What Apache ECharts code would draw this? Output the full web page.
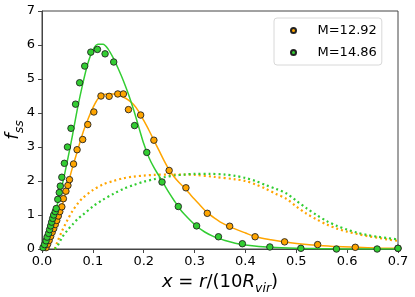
<!DOCTYPE html>
<html>
<head>
<meta charset="utf-8">
<script src="https://cdn.jsdelivr.net/npm/echarts@6/dist/echarts.min.js"></script>
<style>
html,body{margin:0;padding:0;background:#fff;}
#chart{width:415px;height:297px;}
</style>
</head>
<body>
<div id="chart"></div>
<script>
// ---- data ----
const seriesNames = ['M=12.92', 'M=14.86'];
const xTicks = [0.0, 0.1, 0.2, 0.3, 0.4, 0.5, 0.6, 0.7];
const yTicks = [0, 1, 2, 3, 4, 5, 6, 7];

// measured points, M=12.92 (orange)
const orangePtsX = [0.008,0.011,0.014,0.017,0.020,0.023,0.026,0.029,0.032,0.035,0.039,0.042,0.047,0.051,0.054,0.062,0.069,0.080,0.090,0.102,0.116,0.132,0.149,0.160,0.170,0.194,0.220,0.250,0.283,0.325,0.369,0.419,0.477,0.542,0.616,0.700];
const orangePtsY = [0.04,0.14,0.25,0.37,0.49,0.60,0.72,0.84,0.97,1.10,1.24,1.48,1.70,1.87,2.04,2.50,2.92,3.22,3.66,4.03,4.50,4.49,4.56,4.56,4.10,3.94,3.20,2.31,1.80,1.05,0.67,0.36,0.21,0.13,0.05,0.02];

// measured points, M=14.86 (green)
const greenPtsX = [0.002,0.005,0.008,0.010,0.013,0.015,0.017,0.019,0.021,0.023,0.026,0.028,0.031,0.034,0.036,0.039,0.044,0.050,0.057,0.066,0.074,0.084,0.096,0.109,0.124,0.141,0.182,0.206,0.236,0.268,0.304,0.347,0.394,0.448,0.509,0.579,0.659,0.700];
const greenPtsY = [0.04,0.13,0.24,0.35,0.46,0.57,0.68,0.79,0.90,1.00,1.10,1.19,1.46,1.66,1.85,2.11,2.52,3.00,3.55,4.26,4.89,5.38,5.79,5.87,5.74,5.50,3.63,2.84,1.97,1.25,0.68,0.36,0.155,0.06,0.02,0.0,0.0,0.02];

// model curves (solid)
const orangeModelX = [0.01,0.02,0.03,0.04,0.05,0.06,0.07,0.08,0.09,0.10,0.11,0.12,0.13,0.14,0.15,0.16,0.17,0.18,0.19,0.20,0.21,0.22,0.23,0.24,0.25,0.26,0.27,0.28,0.29,0.30,0.31,0.32,0.33,0.34,0.35,0.37,0.40,0.42,0.45,0.48,0.51,0.54,0.58,0.62,0.66,0.70];
const orangeModelY = [0,0.35,0.8,1.3,1.85,2.4,2.9,3.4,3.8,4.15,4.42,4.53,4.56,4.56,4.53,4.47,4.38,4.25,4.05,3.78,3.5,3.2,2.9,2.6,2.33,2.12,1.95,1.8,1.63,1.46,1.3,1.14,1.01,0.9,0.8,0.65,0.47,0.36,0.27,0.2,0.15,0.11,0.07,0.05,0.03,0.02];

const greenModelX = [0,0.01,0.02,0.03,0.04,0.05,0.06,0.07,0.08,0.09,0.10,0.11,0.12,0.13,0.14,0.15,0.16,0.17,0.18,0.19,0.20,0.21,0.22,0.23,0.24,0.25,0.26,0.27,0.28,0.30,0.32,0.34,0.36,0.38,0.40,0.45,0.50,0.55,0.60,0.70];
const greenModelY = [0,0.35,0.8,1.3,1.9,2.6,3.35,4.15,4.85,5.45,5.85,6.02,6.02,5.88,5.62,5.3,4.95,4.55,4.1,3.6,3.1,2.7,2.4,2.15,1.9,1.65,1.42,1.2,1.02,0.72,0.5,0.35,0.25,0.17,0.12,0.05,0.02,0.01,0,0];

// second model curves (dotted)
const orangeDotX = [0.025,0.03,0.04,0.05,0.06,0.07,0.08,0.10,0.12,0.14,0.16,0.18,0.20,0.22,0.25,0.28,0.30,0.34,0.38,0.40,0.42,0.44,0.46,0.48,0.50,0.52,0.54,0.56,0.58,0.60,0.62,0.64,0.66,0.68,0.70];
const orangeDotY = [0,0.2,0.55,0.85,1.12,1.33,1.5,1.73,1.9,2.0,2.08,2.13,2.16,2.18,2.19,2.19,2.18,2.12,2.05,2.0,1.9,1.77,1.62,1.48,1.25,1.04,0.87,0.72,0.6,0.51,0.44,0.38,0.33,0.28,0.24];

const greenDotX = [0.025,0.03,0.04,0.05,0.06,0.07,0.08,0.10,0.12,0.14,0.16,0.18,0.20,0.22,0.24,0.26,0.28,0.30,0.33,0.36,0.38,0.40,0.42,0.44,0.46,0.48,0.50,0.52,0.54,0.56,0.58,0.60,0.62,0.64,0.66,0.68,0.70];
const greenDotY = [0,0.08,0.35,0.55,0.72,0.88,1.0,1.25,1.45,1.62,1.77,1.88,1.98,2.05,2.11,2.16,2.19,2.21,2.21,2.19,2.15,2.09,2.0,1.88,1.77,1.64,1.42,1.2,1.0,0.82,0.68,0.57,0.48,0.41,0.36,0.32,0.28];

// ---- chart ----
const ORANGE = '#FFA500';
const GREEN = '#32CD32';
const FONT = 'DejaVu Sans';
const pairs = (xs, ys) => xs.map((x, i) => [x, ys[i]]);

const chart = echarts.init(document.getElementById('chart'), null, {renderer: 'canvas'});

const axisCol = '#444';
const option = {
  animation: false,
  backgroundColor: '#fff',
  grid: {left: 42, right: 17, top: 11, bottom: 48, outerBoundsMode: 'none', containLabel: false,
         show: true, borderColor: axisCol, borderWidth: 1, backgroundColor: 'transparent'},
  legend: {
    data: seriesNames,
    orient: 'vertical',
    left: 274, top: 18,
    padding: [6, 5, 6, 16],
    itemWidth: 32, itemHeight: 5, itemGap: 9,
    icon: 'circle',
    backgroundColor: '#fff',
    borderColor: '#d8d8d8', borderWidth: 1, borderRadius: 3,
    textStyle: {fontFamily: FONT, fontSize: 13, color: '#000', padding: [0, 0, 0, 3]}
  },
  xAxis: {
    type: 'value', min: xTicks[0], max: xTicks[xTicks.length - 1], interval: 0.1,
    splitLine: {show: false},
    axisLine: {show: true, onZero: false, lineStyle: {color: axisCol, width: 1}},
    axisTick: {show: true, length: 4, lineStyle: {color: axisCol}},
    axisLabel: {fontFamily: FONT, fontSize: 13, color: '#000', margin: 6, formatter: v => v.toFixed(1)},
    name: '{i|x}{n| = }{i|r}{n|/(10}{i|R}{s|vir}{n|)}',
    nameLocation: 'middle', nameGap: 20, nameMoveOverlap: false,
    nameTextStyle: {
      rich: {
        i: {fontFamily: FONT, fontStyle: 'italic', fontSize: 18, color: '#000', lineHeight: 26},
        n: {fontFamily: FONT, fontSize: 18, color: '#000', lineHeight: 26},
        s: {fontFamily: FONT, fontStyle: 'italic', fontSize: 12.5, color: '#000', lineHeight: 14, padding: [12, 0, 0, 0], verticalAlign: 'bottom'}
      }
    }
  },
  yAxis: {
    type: 'value', min: yTicks[0], max: yTicks[yTicks.length - 1], interval: 1,
    splitLine: {show: false},
    axisLine: {show: true, onZero: false, lineStyle: {color: axisCol, width: 1}},
    axisTick: {show: true, length: 4, lineStyle: {color: axisCol}},
    axisLabel: {fontFamily: FONT, fontSize: 13, color: '#000', margin: 7},
    name: '{i|f}{s|ss}',
    nameLocation: 'middle', nameGap: 16, nameRotate: 90, nameMoveOverlap: false,
    nameTextStyle: {
      rich: {
        i: {fontFamily: FONT, fontStyle: 'italic', fontSize: 18, color: '#000', lineHeight: 26},
        s: {fontFamily: FONT, fontStyle: 'italic', fontSize: 12.5, color: '#000', lineHeight: 14, padding: [12, 0, 0, 0], verticalAlign: 'bottom'}
      }
    }
  },
  series: [
    {type: 'line', data: pairs(orangeDotX, orangeDotY), showSymbol: false, smooth: 0.3, silent: true, z: 2,
     lineStyle: {color: ORANGE, width: 2.2, type: [2, 3]}},
    {type: 'line', data: pairs(greenDotX, greenDotY), showSymbol: false, smooth: 0.3, silent: true, z: 2,
     lineStyle: {color: GREEN, width: 2.2, type: [2, 3]}},
    {type: 'line', data: pairs(orangeModelX, orangeModelY), showSymbol: false, smooth: 0.3, silent: true, z: 3,
     lineStyle: {color: ORANGE, width: 1.5}},
    {type: 'line', data: pairs(greenModelX, greenModelY), showSymbol: false, smooth: 0.3, silent: true, z: 3,
     lineStyle: {color: GREEN, width: 1.5}},
    {name: seriesNames[0], type: 'scatter', data: pairs(orangePtsX, orangePtsY), symbolSize: 6.5, z: 4,
     itemStyle: {color: ORANGE, borderColor: '#222', borderWidth: 0.9, opacity: 1}},
    {name: seriesNames[1], type: 'scatter', data: pairs(greenPtsX, greenPtsY), symbolSize: 6.5, z: 5,
     itemStyle: {color: GREEN, borderColor: '#222', borderWidth: 0.9, opacity: 1}}
  ]
};
chart.setOption(option);
</script>
</body>
</html>
